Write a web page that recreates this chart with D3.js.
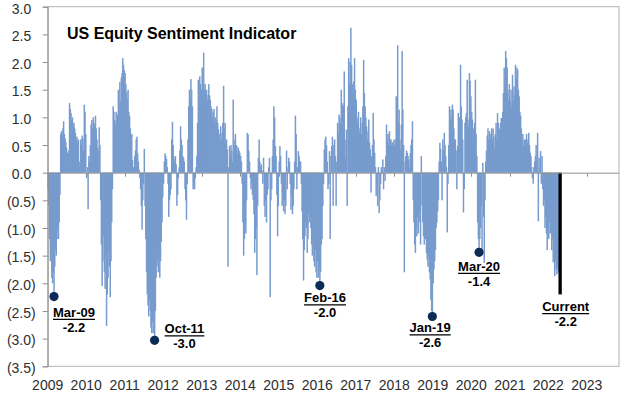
<!DOCTYPE html>
<html><head><meta charset="utf-8">
<script src="https://cdn.jsdelivr.net/npm/d3@7/dist/d3.min.js"></script>
<style>
html,body{margin:0;padding:0;background:#fff;}
svg{display:block;font-family:"Liberation Sans",Arial,sans-serif;}
</style></head><body>
<svg id="chart" width="625" height="395"></svg>
<script>
// ---- data: weekly indicator values, one array per calendar year ----
const years = [2009,2010,2011,2012,2013,2014,2015,2016,2017,2018,2019,2020,2021,2022];
const v2009 = [-0.3,-0.6,-1.2,-1.6,-1.4,-1.9,-2.0,-1.8,-2.24,-1.7,-1.4,-1.5,-1.2,-1.0,-1.2,-0.9,-0.4,
  0.7,0.75,0.65,0.8,0.93,0.7, 0.62,0.55,0.45,0.36,0.3,0.4, 1.26,1.15,1.08,0.95,1.0,0.84,
  0.9,0.8,0.72,0.6,0.65,0.55,0.6, 0.12,0.2, 0.6,0.5,0.67,0.62,0.4, 1.23,1.1,0.7];
const v2010 = [-0.1,0.1,-0.66, 0.3,0.2,0.5, 0.87,0.95,0.8,1.0,0.9,0.85,1.03, 0.8,0.6,0.45,0.39,0.82,0.5,
  -0.5,-1.3,-2.05,-1.6,-1.15,-1.8,-2.1,-1.5,-2.77,-2.2,-1.9,-1.4,-1.7,-2.25,-1.6,-0.9,-0.3,
  1.2,1.1,0.95, 0.87,1.1,0.95,1.05,1.5,1.2,1.64,1.3, 1.72,1.8,2.07,1.95,1.85];
const v2011 = [1.8,1.6,1.45,1.32,1.5,1.1, 1.03,0.8,0.6,0.7, 0.23,0.1,0.05,0.3,0.4, 0.6,0.65,0.35,0.2,
  0.05,-0.1,-0.3,-0.6,-1.03,-0.5,-0.2, 0.43,
  -0.6,-1.2,-1.8,-2.2,-2.4,-2.6,-2.3,-2.5,-2.8,-2.9,-2.7,-2.9,-2.6,-3.03,-2.5,-1.9,-1.7,-1.6,-1.8,-1.5,-1.9,-1.6,-1.25,-0.9,-0.45];
const v2012 = [-0.2,0.2,0.35,0.3,0.25,0.1, -0.2,-0.8,-0.5,-0.4,-0.3, 0.6,0.92,0.5, 0.28,0.2,0.3,0.15,
  -0.6,-0.4,-0.1,0.1, 0.4,0.84,0.6,0.5,0.3, 0.27,0.2,-0.3,-0.5,-0.85,-0.2, 0.6,1.2,1.5,1.3,1.69,1.5,1.2,
  -0.3,-0.2,-0.3,-0.1,0.1,0.3, 0.9,1.68,1.4,1.74,1.6,1.5];
const v2013 = [1.9,1.8,2.17,1.5,1.6,1.45,1.5,1.3,1.4,1.6, 1.4,1.32,1.2,1.15,1.0,1.1,1.15,0.9,1.0,0.96,
  1.2,0.9,0.78,0.6,0.7,0.84,0.6,0.72,0.9,1.57, 0.8,0.9,0.55,0.6,0.42,-1.7,0.1,
  0.48,0.3,0.5,0.4,0.2,1.32,0.6,0.5, 0.7,0.5,0.48,0.35,0.45,0.4,0.36];
const v2014 = [0.3,0.2,-0.2, -0.9,-1.5,-1.2,-0.9,-1.1,-0.5, 0.72,0.69,0.4,0.2, -0.1,-0.3,-0.2,-0.4,-0.5,-0.75,
  -1.45,-1.2,-1.0,-1.85,-0.6, 0.27,0.6,0.2,0.1,0.15,0.04,-0.2, 0.27,-0.6,-0.8,-0.5,-0.9,-0.4,-0.3,0.1,
  0.27,-2.25, -0.5,-0.3,0.3,0.6, 1.2,1.0,0.48,0.3,-0.4, -1.15,-0.6];
const v2015 = [0.2,0.48,0.3,-0.2, -0.6,-0.4,-0.7,-0.5,-0.75,-0.6, 0.4,-0.3,0.1,0.27,0.2,-0.2,
  -0.67,-0.4,-0.75,-0.6,-0.3,0.2, 1.03,0.7, -0.3,0.1,0.39,0.3,0.2, 0.2,-0.2,
  -0.7,-1.2,-1.95,-1.4,-1.15,-0.9,-1.0,-1.45,-1.2,-0.75,-0.9,-0.8,-1.0,-1.3,-1.5,-1.2,-1.6,-1.7,-1.4,-1.8,-1.9];
const v2016 = [-1.6,-1.9,-1.7,-2.04,-1.8,-1.3,-1.2,-0.6, -0.2,0.42,0.6, 0.65,0.5,0.2, -0.3,-0.2,
  0.39,-1.2,0.3, 0.48,0.65,-0.6, 0.5,0.6,0.3, -0.6,0.2, 0.9,0.72,1.05,1.0,0.9, 1.5,1.26,1.23,1.2,
  1.83,0.6,0.3,0.78, -0.6,1.2,2.07, 1.6,2.0,2.62,1.95, 1.6,1.4,1.65,2.07,1.5];
const v2017 = [1.32,1.0,0.9,1.1,0.72,0.8,1.0,0.7,0.9,1.2, 2.04,1.44,1.2,1.0,0.84,0.6,0.75,
  0.96,0.55,0.42,-0.36,0.3,0.5, 1.08,0.6,0.36,0.1, -0.42,-0.2,-0.6,0.1,-0.73,-0.5,-0.2,0.1,0.05,
  0.24,-0.3,0.1,-0.15,0.3, 0.87,0.6,0.7,0.5,0.75,0.6, 0.6,0.5,0.55,0.48,0.6];
const v2018 = [0.5,0.6, 1.38,0.8,2.3,0.9, 1.14,0.6,0.42,0.87, 2.2,1.14,0.5, -1.8,0.2,
  0.3,0.4,0.36,0.3,0.24,0.1,0.35,0.5,0.6, 0.93,-0.5, -0.9,-1.3,-1.45,-1.0,-1.15,-0.8,-1.1,-0.9,-0.7,-1.3, 0.3,
  -0.6,-0.9,-1.15,-1.3,-1.0,-1.2,-1.45,-1.57,-1.7,-1.5,-1.8,-1.93,-2.3,-2.5,-2.6];
const v2019 = [-2.0,-1.75,-1.6,-1.4,-1.0,-0.9,-0.7, -0.5,0.2, 0.54,0.43,0.2, -0.5,0.6,0.4, 0.72,0.5,0.3,0.1,
  -1.08,-0.2, 0.5,1.2,0.94,1.14,1.0,1.23,1.14,0.8,0.6, 0.6,0.4,-0.3, 0.48,1.08,0.8,1.0, 1.95,1.2,
  0.96,0.6, -0.72,-0.3,0.9, 1.0,1.08,1.68,0.96,0.84, 1.8,1.66,1.38];
const v2020 = [1.1,0.96,0.8,0.6,0.9,1.68,0.7, 0.3,-0.9,-1.2, -1.44,-1.2,-1.0,-0.6,-1.4,0.18,-0.8, -1.63,-0.5,
  0.2,0.4, 0.67,0.8,0.6,0.75,0.6,0.7,0.8,0.6,0.8,0.65,0.45,0.7,0.9,0.6,
  1.08,0.9,0.8,0.78,0.9,0.99,0.85,1.1, 1.44,1.9,1.6,2.2,2.07,1.9,1.5,1.32,1.6];
const v2021 = [1.29,1.5,1.2,1.77,1.3,1.56,1.4,1.95,1.7,1.9, 1.86,1.5,1.38,1.1,1.03,0.8,0.54,0.7,0.48,0.6,
  0.5,0.6,0.7,0.54,0.6,0.72,0.5,0.36,0.3,0.1, -0.1,-0.2,0.1,0.2,0.3,0.5,0.2,0.72,-0.88,0.27,
  0.1,0.39,-0.2,0.3,-0.3, -0.6,-0.5,-1.0,-0.8,-1.1,-1.4,-1.0];
const v2022 = [-1.2,-0.9,-1.1,-1.0,-1.4,-1.2,-1.62,-1.5,-1.87,-1.6,-1.75,-1.84,-1.7,-1.8,-2.2];
const yearValues = [v2009,v2010,v2011,v2012,v2013,v2014,v2015,v2016,v2017,v2018,v2019,v2020,v2021,v2022];

// annotations
const noteLabels = ["Mar-09","Oct-11","Feb-16","Jan-19","Mar-20","Current"];
const noteDates  = ["2009-02-26","2011-10-08","2016-01-22","2018-12-24","2020-03-11","2022-04-09"];
const noteValues = [-2.24,-3.03,-2.04,-2.6,-1.44,-2.2];

// axes
const yTicks = [3.0,2.5,2.0,1.5,1.0,0.5,0.0,-0.5,-1.0,-1.5,-2.0,-2.5,-3.0,-3.5];
const xTickLabels = ["2009","2010","2011","2012","2013","2014","2015","2016","2017","2018","2019","2020","2021","2022","2023"];
const titleText = "US Equity Sentiment Indicator";

// ---- layout ----
const L = 47.7, R = 619, T = 6.7, B = 366.3;
const barColor = "#779bcd", dotColor = "#0d2b55", axisColor = "#8f8f8f";
// label offsets relative to each marker (layout only)
const noteOffsets = [[20.4,20.2],[30.3,-6.9],[5.6,16.9],[-1.8,15.9],[0.4,18.5],[6,16.7]];

const svg = d3.select("#chart");
const parse = d3.timeParse("%Y-%m-%d");
const x = d3.scaleTime().domain([new Date(2009,0,1), new Date(2023,10,2)]).range([L, R]);
const y = d3.scaleLinear().domain([-3.5, 3.0]).range([B, T]);

const data = [];
years.forEach((yr, k) => yearValues[k].forEach((v, i) => data.push({date: new Date(yr, 0, 1 + 7*i), value: v})));
const current = data[data.length - 1];

// plot border
svg.append("rect").attr("x", L).attr("y", T).attr("width", R - L).attr("height", B - T)
  .attr("fill", "none").attr("stroke", "#b4b4b4").attr("stroke-width", 1);

// bars
const wk = x(new Date(2010,0,8)) - x(new Date(2010,0,1));
svg.append("g").selectAll("rect").data(data.slice(0, -1)).join("rect")
  .attr("x", d => x(d.date) - 0.3)
  .attr("width", wk + 0.75)
  .attr("y", d => y(Math.max(0, d.value)))
  .attr("height", d => Math.abs(y(d.value) - y(0)))
  .attr("fill", barColor);

// current bar
svg.append("rect")
  .attr("x", x(current.date) - 0.2).attr("width", 3.3)
  .attr("y", y(0)).attr("height", y(current.value) - y(0))
  .attr("fill", "#000");

// zero axis with year ticks
const y0 = y(0);
svg.append("line").attr("x1", L).attr("x2", R).attr("y1", y0 + 0.5).attr("y2", y0 + 0.5)
  .attr("stroke", axisColor).attr("stroke-width", 1);
const yearDates = xTickLabels.map(s => new Date(+s, 0, 1));
svg.append("g").selectAll("line").data(yearDates.slice(1)).join("line")
  .attr("x1", d => Math.round(x(d)) + 0.5).attr("x2", d => Math.round(x(d)) + 0.5)
  .attr("y1", y0 + 0.5).attr("y2", y0 + 4)
  .attr("stroke", axisColor);

// left axis
const yAxis = d3.axisLeft(y).tickValues(yTicks).tickSize(5).tickPadding(6)
  .tickFormat(d => d < 0 ? "(" + Math.abs(d).toFixed(1) + ")" : d.toFixed(1));
const ga = svg.append("g").attr("transform", `translate(${L},0)`).call(yAxis);
ga.select(".domain").attr("stroke", axisColor);
ga.selectAll(".tick line").attr("stroke", axisColor);
ga.selectAll(".tick text")
  .attr("font-family", '"Liberation Sans",Arial,sans-serif').attr("font-size", 14).attr("fill", "#2e2e2e")
  .attr("x", d => d < 0 ? -12 : -16.5)
  .attr("dy", "0.45em");

// bottom year labels
svg.append("g").selectAll("text").data(xTickLabels).join("text")
  .attr("x", d => x(new Date(+d, 0, 1)))
  .attr("y", 390)
  .attr("text-anchor", "middle")
  .attr("font-size", 14).attr("fill", "#2e2e2e")
  .text(d => d);

// title
svg.append("text").attr("x", 67).attr("y", 39)
  .attr("font-size", 16).attr("font-weight", "bold").attr("fill", "#000")
  .text(titleText);

// annotations
const fmt = v => v.toFixed(1);
noteLabels.forEach((lab, i) => {
  const cx = x(parse(noteDates[i])), cy = y(noteValues[i]);
  const isCurrent = lab === "Current";
  const mx = isCurrent ? cx + 1 : cx;
  if (!isCurrent) {
    svg.append("circle").attr("cx", cx + 0.4).attr("cy", cy).attr("r", 4.6).attr("fill", dotColor);
  }
  const lx = mx + noteOffsets[i][0], ly = cy + noteOffsets[i][1];
  const t = svg.append("text").attr("x", lx).attr("y", ly).attr("text-anchor", "middle")
    .attr("font-size", 13).attr("font-weight", "bold").attr("fill", "#000").text(lab);
  const w = t.node().getComputedTextLength();
  svg.append("line").attr("x1", lx - w/2).attr("x2", lx + w/2)
    .attr("y1", ly + 2.5).attr("y2", ly + 2.5).attr("stroke", "#000").attr("stroke-width", 1.3);
  svg.append("text").attr("x", lx).attr("y", ly + 15).attr("text-anchor", "middle")
    .attr("font-size", 13).attr("font-weight", "bold").attr("fill", "#000").text(fmt(noteValues[i]));
});
</script>
</body></html>
